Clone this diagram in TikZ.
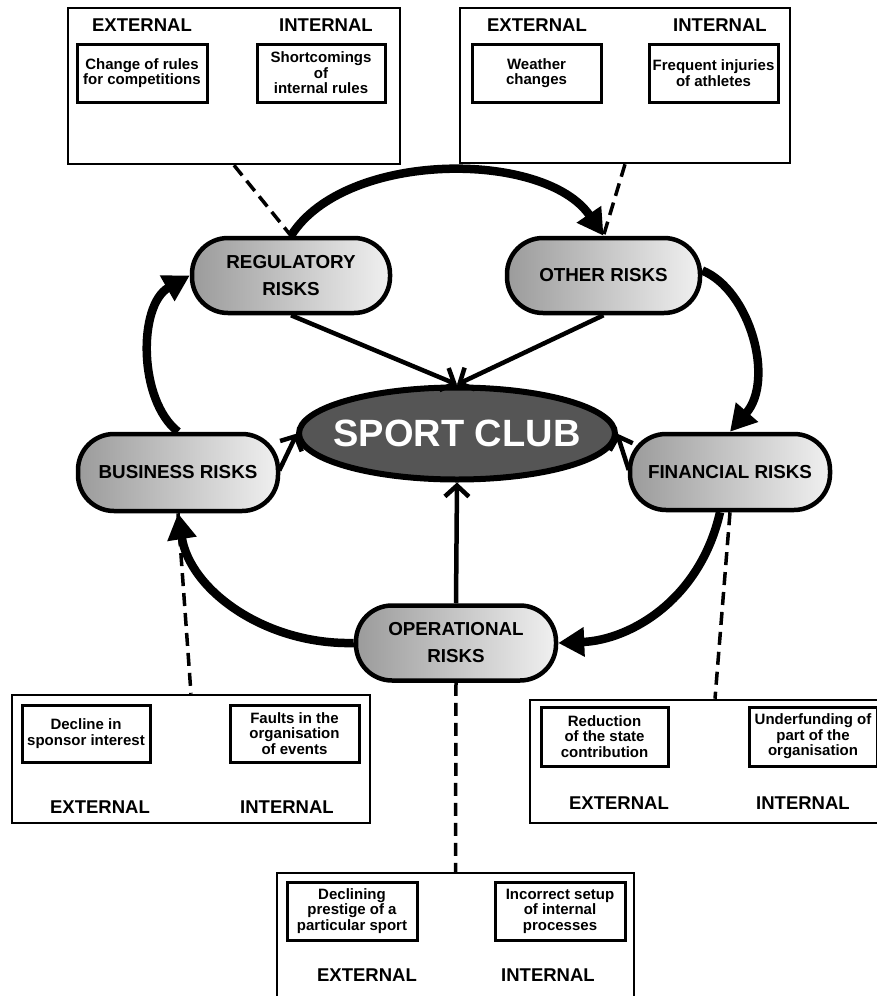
\documentclass[tikz,border=0pt]{standalone}
\usepackage{fontspec}
\setmainfont{Liberation Sans}
\usetikzlibrary{arrows.meta,shapes.geometric,backgrounds}
\definecolor{riskdark}{RGB}{155,155,155}
\definecolor{risklight}{RGB}{240,240,240}
\definecolor{clubfill}{RGB}{85,85,85}
\begin{document}
\begin{tikzpicture}[x=1pt,y=-1pt,
  outerbox/.style={draw,line width=2.5pt,inner sep=0pt},
  innerbox/.style={draw,line width=3pt,align=center,inner sep=0pt,
    font=\bfseries\fontsize{15}{15.5}\selectfont,minimum width=129pt,minimum height=58pt},
  hdr/.style={font=\bfseries\fontsize{18.5}{20}\selectfont,inner sep=0pt},
  risk/.style={draw,line width=4.5pt,rounded corners=36pt,minimum width=198pt,
    minimum height=75pt,align=center,left color=riskdark,right color=risklight,
    font=\bfseries\fontsize{18.8}{27}\selectfont,inner sep=0pt},
  cyc/.style={line width=8.5pt,-{Triangle[length=26pt,width=28pt]}},
  spoke/.style={line width=4.5pt,-{Straight Barb[length=11pt,width=24pt]}},
  dsh/.style={line width=3.5pt,dash pattern=on 13pt off 7pt}]
\useasboundingbox (0,0) rectangle (877,996);

% outer boxes
\node[outerbox,minimum width=332pt,minimum height=156pt] (tlbox) at (234,86) {};
\node[outerbox,minimum width=330pt,minimum height=155pt] (trbox) at (625,85.5) {};
\node[outerbox,minimum width=358pt,minimum height=128pt] (blbox) at (191,759) {};
\node[outerbox,minimum width=370pt,minimum height=123pt] (brbox) at (715,761.5) {};
\node[outerbox,minimum width=357pt,minimum height=127pt] (bcbox) at (455.5,936.5) {};

% top-left box
\node[hdr] (tlext) at (142,25) {EXTERNAL};
\node[hdr] (tlint) at (326,25) {INTERNAL};
\node[innerbox,minimum width=130pt] (change) at (142,73) {Change of rules\\for competitions};
\node[innerbox,minimum width=128pt] (short) at (321,73) {Shortcomings\\of\\internal rules};

% top-right box
\node[hdr] (trext) at (537,25) {EXTERNAL};
\node[hdr] (trint) at (720,25) {INTERNAL};
\node[innerbox] (weather) at (536.5,73) {Weather\\changes};
\node[innerbox] (frequent) at (713.5,73) {Frequent injuries\\of athletes};

% bottom-left box
\node[innerbox,minimum width=128pt,minimum height=57pt] (decline) at (86,733.5) {Decline in\\sponsor interest};
\node[innerbox,minimum height=57pt] (faults) at (294.5,733.5) {Faults in the\\organisation\\of events};
\node[hdr] (blext) at (100,807) {EXTERNAL};
\node[hdr] (blint) at (287,807) {INTERNAL};

% bottom-right box
\node[innerbox,minimum width=127pt,minimum height=59pt] (reduction) at (604.5,736.5) {Reduction\\of the state\\contribution};
\node[innerbox,minimum width=128pt,minimum height=59pt] (underf) at (813,736.5) {Underfunding of\\part of the\\organisation};
\node[hdr] (brext) at (619,803) {EXTERNAL};
\node[hdr] (brint) at (803,803) {INTERNAL};

% bottom-center box
\node[innerbox,minimum width=130pt] (declining) at (352,911) {Declining\\prestige of a\\particular sport};
\node[innerbox,minimum width=130pt] (incorrect) at (560,911) {Incorrect setup\\of internal\\processes};
\node[hdr] (bcext) at (367,975) {EXTERNAL};
\node[hdr] (bcint) at (548,975) {INTERNAL};

% risk nodes
\node[risk] (reg) at (291,275.5) {REGULATORY\\RISKS};
\node[risk,minimum width=193pt] (oth) at (603.5,275.5) {OTHER RISKS};
\node[risk,minimum width=200pt,minimum height=77pt] (bus) at (178,472.5) {BUSINESS RISKS};
\node[risk,minimum width=200pt,minimum height=76pt] (fin) at (730,472) {FINANCIAL RISKS};
\node[risk,minimum width=200pt] (ope) at (456,643) {OPERATIONAL\\RISKS};

% sport club
\node[ellipse,draw,line width=6pt,fill=clubfill,minimum width=316pt,minimum height=92pt,
  inner sep=0pt] (club) at (457,433.5) {};
\node[text=white,inner sep=0pt,font=\bfseries\fontsize{38}{40}\selectfont] (clubtxt) at (club.center) {SPORT CLUB};

% spokes
\draw[spoke] (reg.south) -- (club.north);
\draw[spoke] (oth.south) -- (club.north);
\draw[spoke] ([xshift=-1pt,yshift=2pt]bus.east) -- ([xshift=1pt]club.west);
\draw[spoke] ([xshift=1pt,yshift=2pt]fin.west) -- ([xshift=-1pt]club.east);
\draw[spoke] (ope.north) -- (club.south);

\begin{scope}[on background layer]
  % dashed links
  \draw[dsh] (tlbox.south) -- (reg.north);
  \draw[dsh] (trbox.south) -- (oth.north);
  \draw[dsh] (bus.south) -- (blbox.north);
  \draw[dsh] (ope.south) -- (bcbox.north);
  \draw[dsh] (fin.south) -- (brbox.north);
  % cycle
  \draw[cyc] (reg.north) .. controls (345,150) and (545,150) .. (oth.north);
  \draw[cyc] ([yshift=5pt]oth.east) .. controls (750,290) and (775,380) .. (fin.north);
  \draw[cyc] ([xshift=-10pt]fin.south) .. controls (700,600) and (630,640) .. (ope.east);
  \draw[cyc] (ope.west) .. controls (265,645) and (190,590) .. (bus.south);
  \draw[cyc] (bus.north) .. controls (138,400) and (138,305) .. (reg.west);
\end{scope}
\end{tikzpicture}
\end{document}
